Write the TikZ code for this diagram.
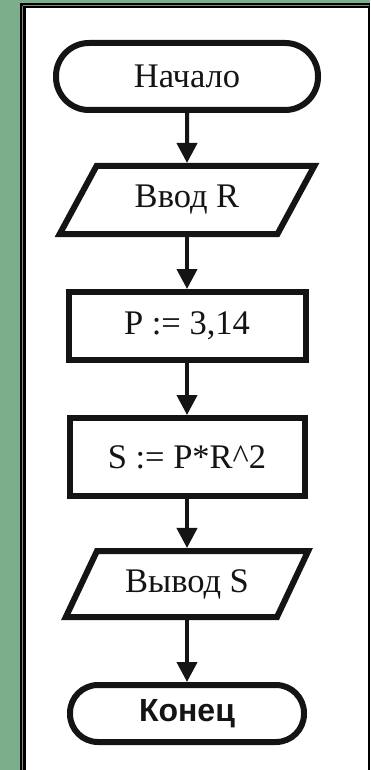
\documentclass[tikz,border=0pt]{standalone}
\usepackage{fontspec}
\setmainfont{Liberation Serif}
\newfontfamily\arialfont{Liberation Sans}
\usetikzlibrary{shapes.geometric,arrows.meta}
\definecolor{bggreen}{RGB}{125,174,140}
\definecolor{inkcol}{RGB}{20,20,20}
\begin{document}
\begin{tikzpicture}[x=1pt,y=-1pt,
  blk/.style={draw=inkcol, line width=6pt, fill=white, inner sep=0pt,
    font=\fontsize{34.5}{38}\selectfont, text=inkcol},
  term/.style={blk, rectangle, rounded corners=#1},
  proc/.style={blk, rectangle},
  iobox/.style={blk, trapezium, trapezium left angle=54, trapezium right angle=126,
    trapezium stretches=true},
  flow/.style={draw=inkcol, line width=4pt, -{Triangle[length=20pt,width=20pt]}}
]
\useasboundingbox (0,0) rectangle (370,770);
% background and frame
\fill[bggreen] (0,0) rectangle (370,770);
\fill[black] (19.5,3.5) rectangle (370,770);
\fill[white] (25.5,8) rectangle (368,770);
\draw[gray!70!bggreen, line width=0.8pt] (22.6,5.8) -- (369,5.8);
\draw[gray!70!bggreen, line width=0.8pt] (22.6,5.8) -- (22.6,770);
% nodes
\node[term=33pt, minimum width=262pt, minimum height=67pt] (start) at (187,76.5) {Начало};
\node[iobox, minimum width=255pt, minimum height=68pt] (in) at (187,200) {Ввод R};
\node[proc, minimum width=237pt, minimum height=68pt] (p1) at (187,326) {P := 3,14};
\node[proc, minimum width=235pt, minimum height=78pt] (p2) at (187,457) {S := P*R\char`\^2};
\node[iobox, minimum width=243pt, minimum height=66pt] (out) at (187,584) {Вывод S};
\node[term=28pt, minimum width=234pt, minimum height=57pt, font=\arialfont\bfseries\fontsize{32}{35}\selectfont] (stop) at (187,713.5) {Конец};
% connectors
\draw[flow] (start) -- (in);
\draw[flow] (in) -- (p1);
\draw[flow] (p1) -- (p2);
\draw[flow] (p2) -- (out);
\draw[flow] (out) -- (stop);
\end{tikzpicture}
\end{document}
